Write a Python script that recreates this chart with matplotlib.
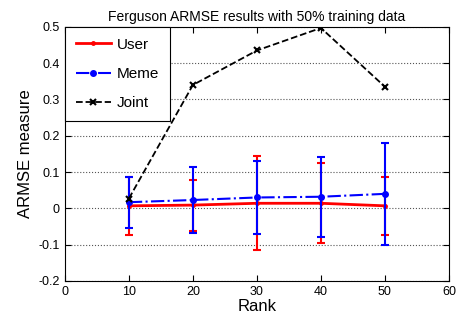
import matplotlib
matplotlib.use('Agg')
import matplotlib.pyplot as plt
from matplotlib.lines import Line2D

plt.rcParams['font.family'] = ['Liberation Sans', 'DejaVu Sans']

rank = [10, 20, 30, 40, 50]
user = [0.007, 0.009, 0.014, 0.014, 0.007]
user_err = [0.08, 0.07, 0.13, 0.11, 0.08]
meme = [0.017, 0.023, 0.030, 0.032, 0.040]
meme_err = [0.07, 0.09, 0.10, 0.11, 0.14]
joint = [0.027, 0.340, 0.435, 0.497, 0.335]

fig = plt.figure(figsize=(4.6, 3.2), dpi=100)
ax = fig.add_axes([0.141, 0.122, 0.835, 0.794])

ax.errorbar(rank, user, yerr=user_err, color='red', linestyle='-', linewidth=2,
            marker='.', markersize=5, capsize=3, elinewidth=1.5, capthick=1.5,
            zorder=2)
ax.errorbar(rank, meme, yerr=meme_err, color='blue', linestyle='-.', linewidth=1.5,
            marker='o', markersize=4, capsize=3, elinewidth=1.5, capthick=1.5,
            zorder=3)
ax.plot(rank, joint, color='black', linestyle='--', linewidth=1.3,
        marker='x', markersize=4, markeredgewidth=1.5, zorder=4)

ax.set_xlim(0, 60)
ax.set_ylim(-0.2, 0.5)
ax.set_xticks([0, 10, 20, 30, 40, 50, 60])
ax.set_yticks([-0.2, -0.1, 0, 0.1, 0.2, 0.3, 0.4, 0.5])
ax.set_yticklabels(['-0.2', '-0.1', '0', '0.1', '0.2', '0.3', '0.4', '0.5'])
ax.tick_params(direction='in', top=True, right=True, labelsize=9, length=4)
ax.yaxis.grid(True, linestyle=':', color='#555555', linewidth=0.8)
for s in ax.spines.values():
    s.set_linewidth(0.8)

ax.set_xlabel('Rank', fontsize=12, labelpad=1)
ax.set_ylabel('ARMSE measure', fontsize=12, labelpad=4)
ax.set_title('Ferguson ARMSE results with 50% training data', fontsize=10, pad=4)

handles = [
    Line2D([], [], color='red', linestyle='-', linewidth=2, marker='.', markersize=5),
    Line2D([], [], color='blue', linestyle='-.', linewidth=1.5, marker='o', markersize=4),
    Line2D([], [], color='black', linestyle='--', linewidth=1.3, marker='x',
           markersize=4, markeredgewidth=1.5),
]
leg = ax.legend(handles, ['User', 'Meme', 'Joint'], loc='upper left', fontsize=11,
                fancybox=False, framealpha=1, edgecolor='black',
                borderaxespad=0.0, handlelength=2.3, handletextpad=0.4,
                labelspacing=1.0, borderpad=0.7)
leg.get_frame().set_linewidth(0.8)

fig.savefig('out.png', dpi=100)
